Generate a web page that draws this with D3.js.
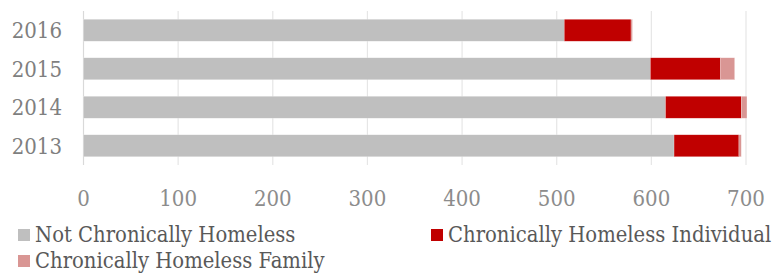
<!DOCTYPE html>
<html>
<head>
<meta charset="utf-8">
<script src="https://cdn.jsdelivr.net/npm/d3@7"></script>
<style>
  body { margin: 0; background: #fff; }
  text { font-family: "DejaVu Serif Condensed", "DejaVu Serif", serif; font-stretch: condensed; }
</style>
</head>
<body>
<div id="chart"></div>
<script>
// data
var years = ["2016", "2015", "2014", "2013"];
var seriesNames = ["Not Chronically Homeless", "Chronically Homeless Individual", "Chronically Homeless Family"];
var notChronic = [508, 599, 615, 624];
var chronicIndividual = [70.5, 74, 80, 68.5];
var chronicFamily = [1.5, 15, 6, 2.5];
var xTicks = [0, 100, 200, 300, 400, 500, 600, 700];
var colors = ["#bfbfbf", "#c00000", "#d99694"];

var width = 772, height = 274;
var plot = {left: 83.5, right: 746, top: 11, bottom: 165};

var svg = d3.select("#chart").append("svg")
  .attr("width", width).attr("height", height);

var x = d3.scaleLinear().domain([0, 700]).range([plot.left, plot.right]);
var y = d3.scaleBand().domain(years).range([plot.top, plot.bottom]).paddingInner(0.43).paddingOuter(0.215);

// gridlines
svg.append("g").selectAll("line")
  .data(xTicks)
  .enter().append("line")
  .attr("x1", function(d) { return x(d); }).attr("x2", function(d) { return x(d); })
  .attr("y1", plot.top).attr("y2", plot.bottom)
  .attr("stroke", function(d) { return d === 0 ? "#d9d9d9" : "#e6e6e6"; })
  .attr("stroke-width", 1.2);

// stack the series
var rows = years.map(function(yr, i) {
  return {year: yr, a: notChronic[i], b: chronicIndividual[i], c: chronicFamily[i]};
});
var stack = d3.stack().keys(["a", "b", "c"])(rows);

svg.append("g").selectAll("g")
  .data(stack)
  .enter().append("g")
  .attr("fill", function(d, i) { return colors[i]; })
  .selectAll("rect")
  .data(function(d) { return d; })
  .enter().append("rect")
  .attr("x", function(d) { return x(d[0]); })
  .attr("width", function(d) { return x(d[1]) - x(d[0]); })
  .attr("y", function(d) { return y(d.data.year); })
  .attr("height", y.bandwidth())
  .attr("stroke", "#fff").attr("stroke-width", 0.5).attr("stroke-opacity", 0.4);

// year labels
svg.append("g").selectAll("text")
  .data(years)
  .enter().append("text")
  .attr("x", 62).attr("y", function(d) { return y(d) + y.bandwidth() / 2; })
  .attr("dy", "0.36em")
  .attr("text-anchor", "end")
  .attr("fill", "#7f7f7f")
  .style("font-size", "22px")
  .text(function(d) { return d; });

// x tick labels
svg.append("g").selectAll("text")
  .data(xTicks)
  .enter().append("text")
  .attr("x", function(d) { return x(d); }).attr("y", 206)
  .attr("text-anchor", "middle")
  .attr("fill", "#8c8c8c")
  .style("font-size", "22px")
  .text(function(d) { return d; });

// legend
var legendPos = [[18, 242], [431, 242], [18, 268]];
var legend = svg.append("g").selectAll("g")
  .data(seriesNames)
  .enter().append("g")
  .attr("transform", function(d, i) { return "translate(" + legendPos[i][0] + "," + legendPos[i][1] + ")"; });
legend.append("rect")
  .attr("x", 0).attr("y", -13).attr("width", 12).attr("height", 12)
  .attr("fill", function(d, i) { return colors[i]; });
legend.append("text")
  .attr("x", 17).attr("y", 0)
  .attr("fill", "#595959")
  .style("font-size", "21.8px")
  .text(function(d) { return d; });
</script>
</body>
</html>
